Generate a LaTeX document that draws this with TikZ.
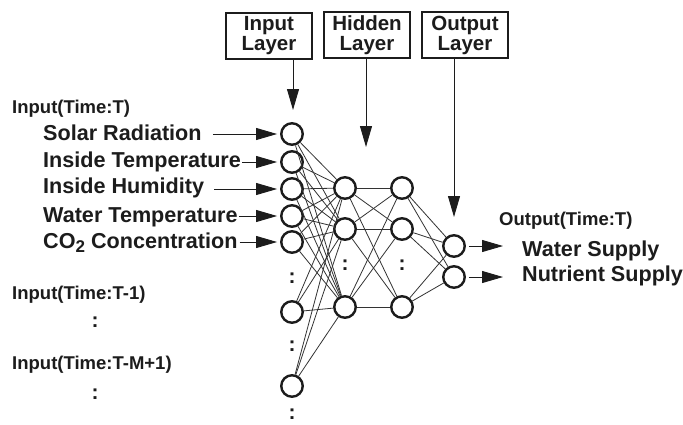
\documentclass[tikz,border=0pt]{standalone}
\usepackage{fontspec}
\setmainfont{Liberation Sans}
\usetikzlibrary{arrows.meta}
\definecolor{ink}{rgb}{0.11,0.11,0.11}
\begin{document}
\begin{tikzpicture}[x=1pt,y=-1pt,
  neuron/.style={circle, draw=ink, line width=2.4pt, minimum size=21.5pt, inner sep=0pt, fill=white},
  conn/.style={line width=0.8pt, draw=ink!90},
  arr/.style={draw=ink, line width=0.9pt, -{Triangle[length=21pt,width=12pt]}},
  lbl/.style={anchor=base west, inner sep=0pt, text=ink, font=\bfseries\fontsize{21.6}{24}\selectfont},
  tlbl/.style={anchor=base west, inner sep=0pt, text=ink, font=\bfseries\fontsize{18.5}{22}\selectfont},
  layerbox/.style={draw=ink, line width=1.1pt, minimum width=86pt, minimum height=46pt, align=center,
    inner sep=0pt, text=ink, font=\bfseries\fontsize{20.5}{20}\selectfont},
  vdots/.style={inner sep=0pt, text=ink, font=\bfseries\fontsize{21}{21}\selectfont}]

\useasboundingbox[fill=white] (0,0) rectangle (683,424);

% layer captions
\node[layerbox] (boxin)  at (269,36) {Input\\Layer};
\node[layerbox] (boxhid) at (367,35) {Hidden\\Layer};
\node[layerbox] (boxout) at (465,35) {Output\\Layer};

% input neurons
\foreach \n/\y in {1/134,2/162,3/189,4/216,5/242,6/312,7/386}
  \node[neuron] (i\n) at (292,\y) {};
% hidden neurons (two layers)
\foreach \n/\y in {1/188,2/229,3/307} {
  \node[neuron] (h\n) at (345,\y) {};
  \node[neuron] (g\n) at (402,\y) {};
}
% output neurons
\node[neuron] (o1) at (454,246) {};
\node[neuron] (o2) at (454,277) {};

% ellipsis marks
\node[vdots] (d1) at (292,278) {:};
\node[vdots] (d2) at (292,346) {:};
\node[vdots] (d3) at (292,414) {:};
\node[vdots] (d4) at (345,265) {:};
\node[vdots] (d5) at (402,265) {:};

% full connections between layers
\foreach \a in {1,...,7}
  \foreach \b in {1,2,3}
    \draw[conn] (i\a) -- (h\b);
\foreach \a in {1,2,3}
  \foreach \b in {1,2,3}
    \draw[conn] (h\a) -- (g\b);
\foreach \a in {1,2,3}
  \foreach \b in {1,2}
    \draw[conn] (g\a) -- (o\b);

% pointers from captions
\coordinate (pin)  at (293,110);
\coordinate (phid) at (366,147);
\coordinate (pout) at (454,217);
\draw[arr] (boxin.south -| pin) -- (pin);
\draw[arr] (boxhid.south -| phid) -- (phid);
\draw[arr] (boxout.south -| pout) -- (pout);

% input labels
\node[tlbl] (tin) at (12,113) {Input(Time:T)};
\node[lbl] (t1) at (43,140) {Solar Radiation};
\node[lbl] (t2) at (43,167) {Inside Temperature};
\node[lbl] (t3) at (43,193) {Inside Humidity};
\node[lbl] (t4) at (43,222) {Water Temperature};
\node[lbl] (t5) at (43,248) {CO\raisebox{-0.4ex}{\fontsize{17}{17}\selectfont 2} Concentration};

\draw[arr, shorten >=3pt] ([xshift=11pt]t1.east |- i1.west) -- (i1.west);
\draw[arr, shorten >=3pt] ([xshift=1pt]t2.east |- i2.west) -- (i2.west);
\draw[arr, shorten >=3pt] ([xshift=10pt]t3.east |- i3.west) -- (i3.west);
\draw[arr, shorten >=3pt] ([xshift=1pt]t4.east |- i4.west) -- (i4.west);
\draw[arr, shorten >=3pt] ([xshift=2pt]t5.east |- i5.west) -- (i5.west);

\node[tlbl] (tin1) at (12,299) {Input(Time:T-1)};
\node[vdots] (d6) at (95,322) {:};
\node[tlbl] (tinm) at (12,369) {Input(Time:T-M+1)};
\node[vdots] (d7) at (95,394) {:};

% output labels
\node[tlbl] (tout) at (499,225) {Output(Time:T)};
\node[lbl] (ws) at (522,256) {Water Supply};
\node[lbl] (ns) at (522,281) {Nutrient Supply};
\draw[arr, shorten <=3pt, shorten >=19pt] (o1.east) -- (o1.east -| ws.west);
\draw[arr, shorten <=3pt, shorten >=19pt] (o2.east) -- (o2.east -| ns.west);
\end{tikzpicture}
\end{document}
